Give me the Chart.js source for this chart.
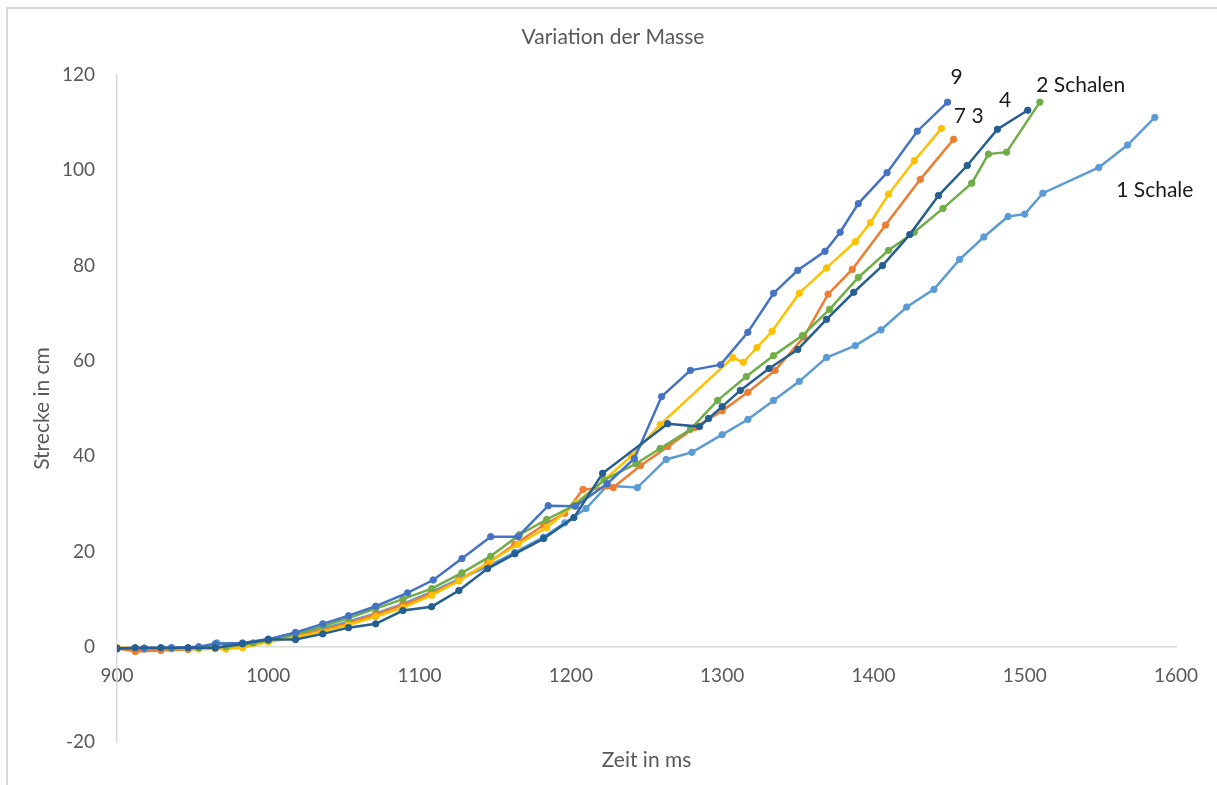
<!DOCTYPE html>
<html>
<head>
<meta charset="utf-8">
<script src="https://cdn.jsdelivr.net/npm/chart.js@4/dist/chart.umd.min.js"></script>
<style>
    html, body { margin: 0; padding: 0; background: #fff; }
    #wrap { position: relative; width: 1217px; height: 785px; overflow: hidden; }
    #frame { position: absolute; left: 6px; top: 7px; width: 1300px; height: 900px; border: 2px solid #d9d9d9; box-sizing: border-box; }
    #chart { position: absolute; left: 0; top: 0; }
</style>
</head>
<body>
<div id="wrap">
    <div id="frame"></div>
    <canvas id="chart" width="1217" height="785"></canvas>
</div>
<script>
// Zeit (ms) und Strecke (cm) je Messreihe
const zeit4 = [900, 912, 929, 947, 965, 983, 1000, 1018, 1036, 1053, 1071, 1089, 1108, 1126, 1145, 1163, 1182, 1202, 1221, 1264, 1285, 1291, 1300, 1312, 1331, 1350, 1369, 1387, 1406, 1424, 1443, 1462, 1482, 1502];
const strecke4 = [-0.4, -0.2, -0.2, -0.2, -0.2, 0.6, 1.5, 1.5, 2.7, 4.0, 4.8, 7.6, 8.4, 11.8, 16.4, 19.5, 22.7, 27.1, 36.4, 46.8, 46.2, 47.9, 50.4, 53.8, 58.4, 62.4, 68.7, 74.4, 80.0, 86.5, 94.7, 101.0, 108.6, 112.6];

const zeit9 = [900, 918, 936, 954, 965, 983, 1000, 1018, 1036, 1053, 1071, 1092, 1109, 1128, 1147, 1165, 1185, 1203, 1224, 1242, 1260, 1279, 1299, 1317, 1334, 1350, 1368, 1378, 1390, 1409, 1429, 1449];
const strecke9 = [-0.3, -0.3, -0.2, 0.0, 0.6, 0.8, 1.6, 3.0, 4.8, 6.5, 8.5, 11.3, 14.0, 18.5, 23.1, 23.1, 29.6, 29.5, 34.2, 39.5, 52.5, 58.0, 59.2, 66.0, 74.2, 79.0, 83.0, 87.0, 93.0, 99.5, 108.2, 114.3];

const zeit2 = [900, 918, 936, 954, 972, 990, 1000, 1018, 1036, 1053, 1071, 1089, 1108, 1128, 1147, 1166, 1184, 1202, 1222, 1243, 1259, 1279, 1297, 1316, 1334, 1353, 1371, 1390, 1410, 1427, 1446, 1465, 1476, 1488, 1510];
const strecke2 = [-0.3, -0.3, -0.4, -0.2, 0.0, 0.8, 1.3, 2.6, 4.3, 6.0, 8.0, 10.0, 12.2, 15.5, 19.0, 23.5, 26.7, 29.6, 35.0, 38.4, 41.6, 45.6, 51.7, 56.7, 61.1, 65.3, 70.8, 77.5, 83.2, 87.0, 92.0, 97.3, 103.4, 103.8, 114.3];

const zeit7 = [900, 918, 936, 954, 972, 983, 1000, 1018, 1036, 1053, 1071, 1089, 1108, 1126, 1147, 1165, 1184, 1203, 1222, 1240, 1259, 1307, 1314, 1323, 1333, 1351, 1369, 1388, 1398, 1410, 1427, 1445];
const strecke7 = [-0.2, -0.3, -0.4, -0.5, -0.5, -0.2, 1.0, 2.0, 3.2, 4.6, 6.3, 8.2, 10.8, 13.8, 18.0, 21.5, 25.0, 30.0, 35.0, 40.0, 46.6, 60.7, 59.7, 62.8, 66.2, 74.2, 79.5, 85.0, 89.0, 95.0, 102.0, 108.8];

const zeit3 = [900, 912, 929, 947, 965, 983, 1000, 1018, 1036, 1053, 1071, 1089, 1108, 1126, 1145, 1163, 1182, 1196, 1208, 1228, 1246, 1264, 1282, 1300, 1317, 1335, 1354, 1370, 1386, 1408, 1431, 1453];
const strecke3 = [-0.3, -1.0, -0.8, -0.6, -0.4, 0.2, 1.2, 2.2, 3.5, 5.0, 6.8, 8.8, 11.2, 14.0, 17.5, 21.5, 25.5, 28.0, 33.0, 33.4, 38.0, 42.0, 46.0, 49.5, 53.4, 58.0, 65.0, 74.0, 79.2, 88.5, 98.1, 106.5];

const zeit1 = [900, 918, 936, 954, 966, 983, 1000, 1018, 1036, 1053, 1071, 1089, 1108, 1126, 1145, 1163, 1182, 1196, 1210, 1224, 1244, 1263, 1280, 1300, 1317, 1334, 1351, 1369, 1388, 1405, 1422, 1440, 1457, 1473, 1489, 1500, 1512, 1549, 1568, 1586];
const strecke1 = [-0.5, -0.5, -0.3, -0.3, 0.8, 0.5, 1.3, 2.5, 3.8, 5.3, 7.0, 9.0, 11.5, 14.2, 16.8, 19.8, 23.0, 26.0, 29.0, 33.8, 33.4, 39.3, 40.8, 44.5, 47.7, 51.7, 55.7, 60.7, 63.2, 66.5, 71.3, 75.0, 81.3, 86.0, 90.3, 90.8, 95.2, 100.6, 105.3, 111.1];

const xTicks = [900, 1000, 1100, 1200, 1300, 1400, 1500, 1600];
const yTicks = [-20, 0, 20, 40, 60, 80, 100, 120];

// Beschriftungen an den Kurven (Text, Zeit, Strecke)
const labelTexte = ['9', '7 3', '4', '2 Schalen', '1 Schale'];
const labelZeit = [1455, 1463, 1487, 1537, 1586];
const labelStrecke = [119.5, 111.3, 114.7, 117.9, 95.8];

const FONT = 'Lato, "Open Sans", sans-serif';
const GRAU = '#595959';

function toPoints(xs, ys) {
    return xs.map((x, i) => ({ x: x, y: ys[i] }));
}

function serie(name, xs, ys, color) {
    return {
        label: name,
        data: toPoints(xs, ys),
        borderColor: color,
        backgroundColor: color,
        borderWidth: 2.5,
        pointRadius: 3.2,
        pointBorderWidth: 1,
        pointHoverRadius: 3.2,
        tension: 0,
        showLine: true
    };
}

// Titel, x-Achsentitel und Kurvenbeschriftungen
const texte = {
    id: 'texte',
    afterDatasetsDraw(chart) {
        const ctx = chart.ctx;
        const xs = chart.scales.x;
        const ys = chart.scales.y;
        const area = chart.chartArea;
        ctx.save();
        ctx.textAlign = 'center';
        ctx.textBaseline = 'middle';

        ctx.fillStyle = GRAU;
        ctx.font = '21px ' + FONT;
        ctx.fillText('Variation der Masse', 613, 37);
        ctx.fillText('Zeit in ms', (area.left + area.right) / 2, 760);

        ctx.font = '21px ' + FONT;
        ctx.fillStyle = '#1a1a1a';
        labelTexte.forEach((t, i) => {
            ctx.fillText(t, xs.getPixelForValue(labelZeit[i]), ys.getPixelForValue(labelStrecke[i]));
        });
        ctx.restore();
    }
};

new Chart(document.getElementById('chart'), {
    type: 'scatter',
    data: {
        datasets: [
            serie('4', zeit4, strecke4, '#255E91'),
            serie('9', zeit9, strecke9, '#4472C4'),
            serie('2 Schalen', zeit2, strecke2, '#70AD47'),
            serie('7', zeit7, strecke7, '#FFC000'),
            serie('3', zeit3, strecke3, '#ED7D31'),
            serie('1 Schale', zeit1, strecke1, '#5B9BD5')
        ]
    },
    options: {
        responsive: false,
        animation: false,
        layout: { padding: { left: 7, right: 41, top: 75, bottom: 43 } },
        plugins: {
            legend: { display: false },
            tooltip: { enabled: false },
            title: { display: false }
        },
        scales: {
            x: {
                type: 'linear',
                position: { y: 0 },
                min: 900,
                max: 1600,
                afterBuildTicks(scale) { scale.ticks = xTicks.map(v => ({ value: v })); },
                grid: { display: false, drawTicks: false },
                border: { display: true, color: '#d9d9d9', width: 1.5 },
                ticks: {
                    color: GRAU,
                    padding: 18,
                    font: { family: FONT, size: 19 },
                    callback: v => String(v)
                }
            },
            y: {
                type: 'linear',
                position: 'left',
                min: -20,
                max: 120,
                afterBuildTicks(scale) { scale.ticks = yTicks.map(v => ({ value: v })); },
                afterFit(scale) { scale.width = 110; },
                grid: { display: false, drawTicks: false },
                border: { display: true, color: '#d9d9d9', width: 1.5 },
                ticks: {
                    color: GRAU,
                    padding: 22,
                    font: { family: FONT, size: 19 },
                    callback: v => String(v)
                },
                title: {
                    display: true,
                    text: 'Strecke in cm',
                    color: GRAU,
                    font: { family: FONT, size: 21 },
                    padding: { top: 22.4, bottom: 0 }
                }
            }
        }
    },
    plugins: [texte]
});
</script>
</body>
</html>
